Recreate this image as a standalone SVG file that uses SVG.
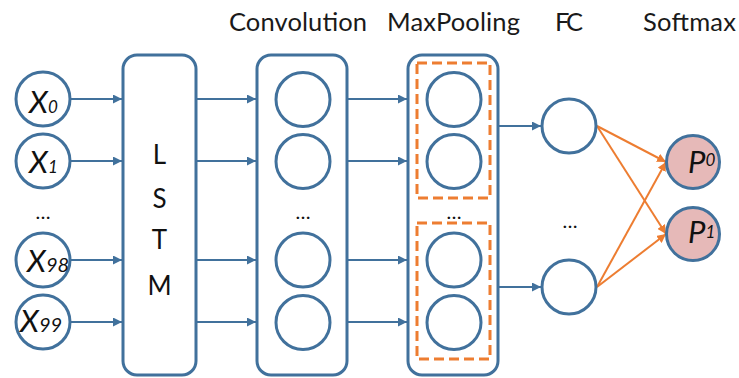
<svg xmlns="http://www.w3.org/2000/svg" width="739" height="378" viewBox="0 0 739 378">
  <style>
    .node { fill: #ffffff; stroke: #41719c; stroke-width: 3; }
    .box { fill: #ffffff; stroke: #41719c; stroke-width: 3; }
    .out { fill: #e6b9b8; stroke: #41719c; stroke-width: 3; }
    .pool { fill: none; stroke: #ed7d31; stroke-width: 3; stroke-dasharray: 10 5; }
    .link { stroke: #41719c; stroke-width: 2; fill: none; }
    .olink { stroke: #ed7d31; stroke-width: 2; fill: none; }
    .title { font-family: Lato, "Liberation Sans", sans-serif; font-size: 25.5px; fill: #1a1a1a; }
    .var { font-family: Lato, "Liberation Sans", sans-serif; font-style: italic; font-size: 31px; fill: #111111; }
    .idx { font-size: 17px; }
    .idx2 { font-size: 20px; }
    .lstm { font-family: Lato, "Liberation Sans", sans-serif; font-size: 26px; fill: #111111; text-anchor: middle; }
    .dots { font-family: Lato, "Liberation Sans", sans-serif; font-size: 20px; fill: #111111; text-anchor: middle; }
  </style>
  <defs>
    <marker id="arrow" viewBox="0 0 10 10" refX="10" refY="5" markerWidth="9" markerHeight="9" markerUnits="userSpaceOnUse" orient="auto">
      <path d="M0,0 L10,5 L0,10 z" fill="#41719c"/>
    </marker>
    <marker id="arrow-o" viewBox="0 0 10 10" refX="10" refY="5" markerWidth="9" markerHeight="9" markerUnits="userSpaceOnUse" orient="auto">
      <path d="M0,0 L10,5 L0,10 z" fill="#ed7d31"/>
    </marker>
  </defs>

  <!-- column titles -->
  <g id="titles">
    <text class="title" x="229" y="31" textLength="138" lengthAdjust="spacing">Convolution</text>
    <text class="title" x="387" y="31" textLength="133" lengthAdjust="spacing">MaxPooling</text>
    <text class="title" x="555" y="31" textLength="28" lengthAdjust="spacing">FC</text>
    <text class="title" x="643" y="31" textLength="93" lengthAdjust="spacing">Softmax</text>
  </g>

  <!-- connectors -->
  <g id="connectors">
    <line class="link" x1="71" y1="99" x2="122" y2="99" marker-end="url(#arrow)"/>
    <line class="link" x1="71" y1="161" x2="122" y2="161" marker-end="url(#arrow)"/>
    <line class="link" x1="71" y1="260" x2="122" y2="260" marker-end="url(#arrow)"/>
    <line class="link" x1="71" y1="322" x2="122" y2="322" marker-end="url(#arrow)"/>

    <line class="link" x1="196" y1="99" x2="256" y2="99" marker-end="url(#arrow)"/>
    <line class="link" x1="196" y1="161" x2="256" y2="161" marker-end="url(#arrow)"/>
    <line class="link" x1="196" y1="260" x2="256" y2="260" marker-end="url(#arrow)"/>
    <line class="link" x1="196" y1="322" x2="256" y2="322" marker-end="url(#arrow)"/>

    <line class="link" x1="347" y1="99" x2="407" y2="99" marker-end="url(#arrow)"/>
    <line class="link" x1="347" y1="161" x2="407" y2="161" marker-end="url(#arrow)"/>
    <line class="link" x1="347" y1="260" x2="407" y2="260" marker-end="url(#arrow)"/>
    <line class="link" x1="347" y1="322" x2="407" y2="322" marker-end="url(#arrow)"/>

    <line class="link" x1="490" y1="126" x2="541" y2="126" marker-end="url(#arrow)"/>
    <line class="link" x1="490" y1="287" x2="541" y2="287" marker-end="url(#arrow)"/>

    <line class="olink" x1="597" y1="126" x2="666" y2="162" marker-end="url(#arrow-o)"/>
    <line class="olink" x1="597" y1="126" x2="666" y2="234" marker-end="url(#arrow-o)"/>
    <line class="olink" x1="597" y1="287" x2="666" y2="162" marker-end="url(#arrow-o)"/>
    <line class="olink" x1="597" y1="287" x2="666" y2="234" marker-end="url(#arrow-o)"/>
  </g>

  <!-- input sequence -->
  <g id="x0">
    <circle class="node" cx="43" cy="99" r="27"/>
    <text class="var" x="29" y="113">X<tspan class="idx">0</tspan></text>
  </g>
  <g id="x1">
    <circle class="node" cx="43" cy="161" r="27"/>
    <text class="var" x="29" y="173">X<tspan class="idx">1</tspan></text>
  </g>
  <g id="x-dots">
    <text class="dots" x="43" y="219">…</text>
  </g>
  <g id="x98">
    <circle class="node" cx="43" cy="260" r="27"/>
    <text class="var" x="27" y="272">X<tspan class="idx2">98</tspan></text>
  </g>
  <g id="x99">
    <circle class="node" cx="43" cy="322" r="27"/>
    <text class="var" x="20" y="332">X<tspan class="idx2">99</tspan></text>
  </g>

  <!-- LSTM block -->
  <g id="lstm">
    <rect class="box" x="123" y="55" width="73" height="320" rx="14"/>
    <text class="lstm" x="159.5" y="164">L</text>
    <text class="lstm" x="159.5" y="208">S</text>
    <text class="lstm" x="159.5" y="249">T</text>
    <text class="lstm" x="159.5" y="295">M</text>
  </g>

  <!-- convolution layer -->
  <g id="conv">
    <rect class="box" x="257" y="55" width="90" height="320" rx="14"/>
    <circle class="node" cx="303" cy="99.5" r="27"/>
    <circle class="node" cx="303" cy="161.5" r="27"/>
    <text class="dots" x="303" y="219">…</text>
    <circle class="node" cx="303" cy="260" r="27"/>
    <circle class="node" cx="303" cy="322.5" r="27"/>
  </g>

  <!-- max pooling layer -->
  <g id="maxpool">
    <rect class="box" x="408" y="55" width="90" height="320" rx="14"/>
    <rect class="pool" x="417" y="63" width="73" height="135"/>
    <rect class="pool" x="417" y="223" width="73" height="136"/>
    <circle class="node" cx="454" cy="99.5" r="27"/>
    <circle class="node" cx="454" cy="161.5" r="27"/>
    <text class="dots" x="454" y="219">…</text>
    <circle class="node" cx="454" cy="260" r="27"/>
    <circle class="node" cx="454" cy="322.5" r="27"/>
  </g>

  <!-- fully connected layer -->
  <g id="fc">
    <circle class="node" cx="569" cy="126" r="27"/>
    <text class="dots" x="570" y="228">…</text>
    <circle class="node" cx="569" cy="287" r="27"/>
  </g>

  <!-- softmax outputs -->
  <g id="p0">
    <circle class="out" cx="693" cy="162" r="26.5"/>
    <text class="var" x="688" y="173">P<tspan class="idx" dy="-7">0</tspan></text>
  </g>
  <g id="p1">
    <circle class="out" cx="693" cy="234" r="26.5"/>
    <text class="var" x="688" y="243">P<tspan class="idx" dy="-5">1</tspan></text>
  </g>
</svg>
